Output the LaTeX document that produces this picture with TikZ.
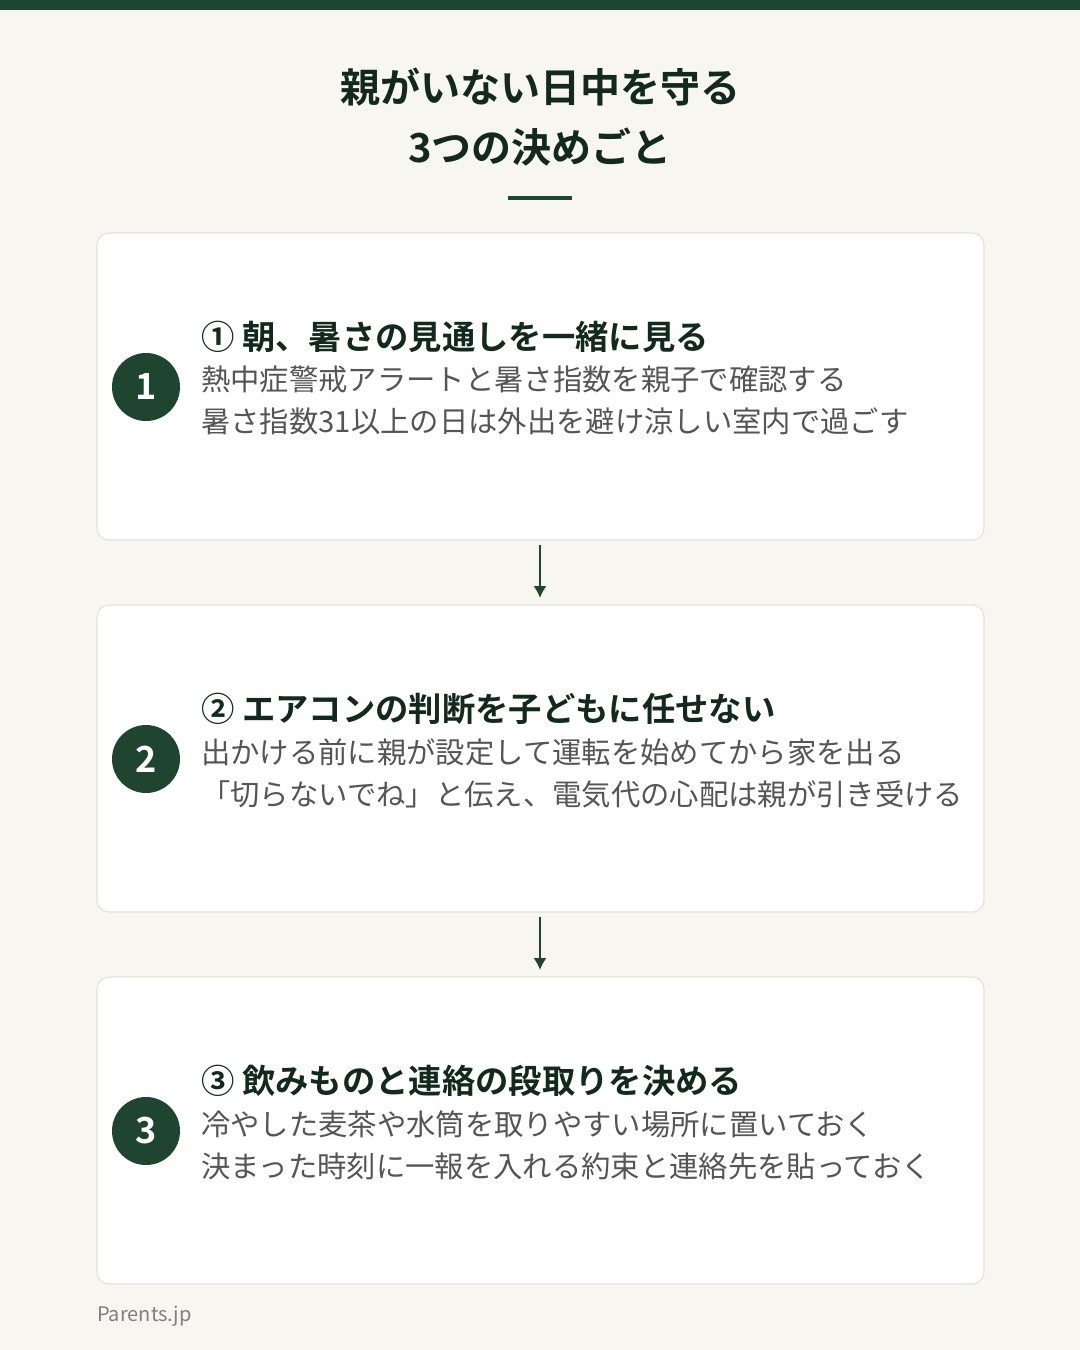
\documentclass[tikz,border=0pt]{standalone}
\usepackage{fontspec}
\usetikzlibrary{arrows.meta}
\setmainfont{Noto Sans CJK JP}[BoldFont={Noto Sans CJK JP Bold}]
\definecolor{bg}{HTML}{F7F6F1}
\definecolor{dg}{HTML}{1F4430}
\definecolor{bd}{HTML}{E2E1DA}
\definecolor{tx}{HTML}{555555}
\begin{document}
\begin{tikzpicture}[x=0.75pt,y=-0.75pt,
 card/.style={draw=bd,line width=0.8pt,fill=white,rounded corners=9pt},
 num/.style={circle,fill=dg,minimum size=51pt,inner sep=0pt,text=white,font=\bfseries\fontsize{27}{30}\selectfont},
 head/.style={anchor=west,inner sep=0pt,text=dg!60!black,font=\bfseries\fontsize{25}{28}\selectfont},
 body/.style={anchor=north west,inner sep=0pt,text=tx,align=left,font=\fontsize{22}{31.5}\selectfont},
 arr/.style={draw=dg,line width=2pt,-{Latex[length=9pt,width=10pt]}}]
\useasboundingbox (0,0) rectangle (1080,1350);
\fill[bg] (0,0) rectangle (1080,1350);
\fill[dg] (0,0) rectangle (1080,10);
\node[align=center,text=dg!60!black,font=\bfseries\fontsize{30}{45}\selectfont] (title) at (540,117) {親がいない日中を守る\\3つの決めごと};
\draw[dg,line width=3pt] (508,198) -- (572,198);
\foreach \i/\y/\h/\a/\b in {
 1/233/① 朝、暑さの見通しを一緒に見る/熱中症警戒アラートと暑さ指数を親子で確認する/暑さ指数31以上の日は外出を避け涼しい室内で過ごす,
 2/605/② エアコンの判断を子どもに任せない/出かける前に親が設定して運転を始めてから家を出る/「切らないでね」と伝え、電気代の心配は親が引き受ける,
 3/977/③ 飲みものと連絡の段取りを決める/冷やした麦茶や水筒を取りやすい場所に置いておく/決まった時刻に一報を入れる約束と連絡先を貼っておく}{
 \draw[card] (97,\y) rectangle (984,\y+307);
 \node[num] (n\i) at (146,\y+154) {\i};
 \node[head] (h\i) at (201,\y+104) {\h};
 \node[body] (b\i) at (201,\y+133) {\a\\\b};
}
\coordinate (s1) at (540,545); \coordinate (e1) at (540,598);
\coordinate (s2) at (540,917); \coordinate (e2) at (540,970);
\draw[arr] (s1) -- (e1);
\draw[arr] (s2) -- (e2);
\node[anchor=west,inner sep=0pt,text=gray,font=\fontsize{15}{18}\selectfont] (src) at (97,1316) {Parents.jp};
\end{tikzpicture}
\end{document}
